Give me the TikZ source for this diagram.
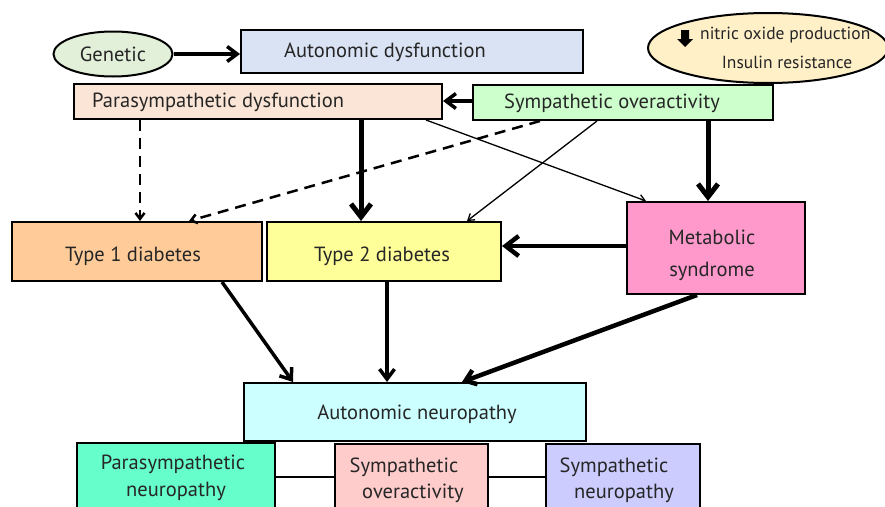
\documentclass[tikz,border=0pt]{standalone}
\usepackage{fontspec}
\setmainfont{PT Sans}
\usetikzlibrary{arrows.meta,shapes.geometric}
\definecolor{txt}{HTML}{262626}
\definecolor{cad}{HTML}{DAE3F3}
\definecolor{cpd}{HTML}{FBE5D6}
\definecolor{cso}{HTML}{CCFFCC}
\definecolor{ctone}{HTML}{FFCC99}
\definecolor{cttwo}{HTML}{FFFF99}
\definecolor{cms}{HTML}{FF99CC}
\definecolor{can}{HTML}{CCFFFF}
\definecolor{cpn}{HTML}{66FFCC}
\definecolor{csob}{HTML}{FFCCCC}
\definecolor{csn}{HTML}{CCCCFF}
\definecolor{cgen}{HTML}{E2F0D9}
\definecolor{cno}{HTML}{FFF0C8}
\tikzset{
  box/.style={draw=black, line width=2pt, inner sep=0pt, anchor=north west},
  oval/.style={ellipse, draw=black, line width=2pt, inner sep=0pt},
  lbl/.style={text=txt, inner sep=0pt, yshift=-1.5pt, font=\fontsize{20.5}{24}\selectfont},
  lblsmall/.style={text=txt, inner sep=0pt, yshift=-1.5pt, font=\fontsize{17.5}{21}\selectfont},
  arrbig/.style={line width=5pt, -{Straight Barb[length=13pt,width=20pt]}},
  arrmid/.style={line width=3.5pt, -{Straight Barb[length=10pt,width=15pt]}},
  arrthin/.style={line width=1.3pt, -{Straight Barb[length=6pt,width=8pt]}},
  arrdash/.style={line width=2.5pt, dash pattern=on 11pt off 7pt, -{Straight Barb[length=6pt,width=9pt]}},
  link/.style={line width=2pt}
}
\begin{document}
\begin{tikzpicture}[x=1pt,y=-1pt]
\clip (0,0) rectangle (885,506);
\fill[white] (0,0) rectangle (885,506);
% nodes
\node[oval, fill=cgen, minimum width=119pt, minimum height=45pt] (gen) at (113,54) {};
\node[box, fill=cad, minimum width=342pt, minimum height=43pt] (ad) at (240,29) {};
\node[oval, fill=cno, minimum width=240pt, minimum height=70pt] (no) at (768,48) {};
\node[box, fill=cpd, minimum width=368pt, minimum height=35pt] (pd) at (73,83) {};
\node[box, fill=cso, minimum width=300pt, minimum height=35pt] (so) at (472,84) {};
\node[box, fill=ctone, minimum width=250pt, minimum height=59pt] (t1) at (11,221) {};
\node[box, fill=cttwo, minimum width=234pt, minimum height=59pt] (t2) at (266,221) {};
\node[box, fill=cms, minimum width=178pt, minimum height=92pt] (ms) at (626,201) {};
\node[box, fill=can, minimum width=342pt, minimum height=58pt] (an) at (243,382) {};
\node[box, fill=cpn, minimum width=198pt, minimum height=80pt] (pn) at (76,442) {};
\node[box, fill=csob, minimum width=153pt, minimum height=80pt] (sob) at (334,443) {};
\node[box, fill=csn, minimum width=154pt, minimum height=80pt] (sn) at (545,443) {};
% labels
\node[lbl] (genL) at (113,53) {Genetic};
\node[lbl] (adL) at (385,51) {Autonomic dysfunction};
\node[lbl, anchor=west] (pdL) at (92,101) {Parasympathetic dysfunction};
\node[lbl] (soL) at (612,102) {Sympathetic overactivity};
\node[lblsmall, anchor=west] (noL1) at (700,34) {nitric oxide production};
\node[lblsmall] (noL2) at (787,61) {Insulin resistance};
\fill[black] (681,30) -- (689,30) -- (689,39) -- (693,39) -- (685,47) -- (677,39) -- (681,39) -- cycle;
\node[lbl] (t1L) at (133,255) {Type 1 diabetes};
\node[lbl] (t2L) at (382,255) {Type 2 diabetes};
\node[lbl] (msL1) at (712,236) {Metabolic};
\node[lbl] (msL2) at (712,270) {syndrome};
\node[lbl] (anL) at (417,413) {Autonomic neuropathy};
\node[lbl] (pnL1) at (173,463) {Parasympathetic};
\node[lbl] (pnL2) at (176,490) {neuropathy};
\node[lbl] (sobL1) at (404,466) {Sympathetic};
\node[lbl] (sobL2) at (413,492) {overactivity};
\node[lbl] (snL1) at (614,466) {Sympathetic};
\node[lbl] (snL2) at (624,492) {neuropathy};
% connectors
\draw[arrmid] (gen.east) -- (ad.west |- gen.east);
\draw[arrmid] (so.west |- 0,101) -- (pd.east |- 0,101);
\draw[arrbig] (361,0 |- pd.south) -- (361,0 |- t2.north);
\draw[arrbig] (708,0 |- so.south) -- (708,0 |- ms.north);
\draw[arrbig, line width=4.5pt] (ms.west |- 0,246) -- (t2.east |- 0,246);
\draw[arrmid] (222,0 |- t1.south) -- (293,0 |- an.north);
\draw[arrmid] (387,0 |- t2.south) -- (387,0 |- an.north);
\draw[arrmid, line width=4.5pt] (697,0 |- ms.south) -- (462,0 |- an.north);
\draw[arrdash] (140,0 |- pd.south) -- (140,0 |- t1.north);
\draw[arrdash] (540,0 |- so.south) -- (189,0 |- t1.north);
\draw[arrthin] (426,0 |- pd.south) -- (646,0 |- ms.north);
\draw[arrthin] (597,0 |- so.south) -- (467,0 |- t2.north);
\draw[link] (pn.east |- 0,477) -- (sob.west |- 0,477);
\draw[link] (sob.east |- 0,477) -- (sn.west |- 0,477);
\end{tikzpicture}
\end{document}
